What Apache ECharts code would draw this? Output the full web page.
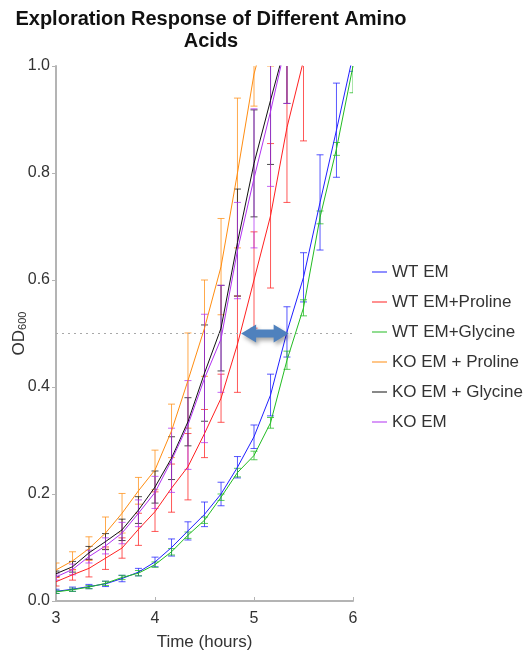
<!DOCTYPE html>
<html>
<head>
<meta charset="utf-8">
<script src="https://cdn.jsdelivr.net/npm/echarts@6/dist/echarts.min.js"></script>
<style>
  html, body { margin: 0; padding: 0; background: #fff; }
  #chart { width: 532px; height: 658px; }
</style>
</head>
<body>
<div id="chart"></div>
<script>
// Sampling times (hours), every 10 minutes
const times = [3.0, 3.167, 3.333, 3.5, 3.667, 3.833, 4.0, 4.167, 4.333, 4.5,
               4.667, 4.833, 5.0, 5.167, 5.333, 5.5, 5.667, 5.833, 6.0];

// Mean OD600 and error (±) per strain / medium
const wtEM      = [0.018, 0.022, 0.027, 0.032, 0.042, 0.054, 0.073, 0.100, 0.131, 0.162,
                   0.200, 0.250, 0.307, 0.385, 0.503, 0.605, 0.745, 0.880, 1.020];
const wtEMErr   = [0.004, 0.004, 0.004, 0.005, 0.006, 0.007, 0.009, 0.016, 0.017, 0.023,
                   0.022, 0.020, 0.022, 0.039, 0.047, 0.046, 0.089, 0.088, 0.030];

const wtPro     = [0.036, 0.049, 0.061, 0.080, 0.099, 0.134, 0.167, 0.211, 0.251, 0.313,
                   0.379, 0.480, 0.600, 0.720, 0.885, 1.010];
const wtProErr  = [0.008, 0.010, 0.016, 0.021, 0.019, 0.030, 0.037, 0.045, 0.062, 0.045,
                   0.045, 0.090, 0.090, 0.135, 0.140, 0.150];

const wtGly     = [0.017, 0.021, 0.026, 0.033, 0.044, 0.052, 0.068, 0.092, 0.123, 0.151,
                   0.194, 0.240, 0.272, 0.333, 0.450, 0.548, 0.717, 0.845, 1.000];
const wtGlyErr  = [0.003, 0.003, 0.003, 0.004, 0.004, 0.005, 0.005, 0.006, 0.006, 0.006,
                   0.006, 0.008, 0.008, 0.010, 0.017, 0.015, 0.012, 0.012, 0.050];

const koPro     = [0.058, 0.075, 0.098, 0.127, 0.164, 0.206, 0.245, 0.318, 0.412, 0.510,
                   0.625, 0.800, 0.985, 1.100];
const koProErr  = [0.013, 0.017, 0.022, 0.030, 0.037, 0.025, 0.037, 0.050, 0.089, 0.090,
                   0.090, 0.140, 0.060, 0.100];

const koGly     = [0.051, 0.064, 0.090, 0.111, 0.133, 0.170, 0.213, 0.267, 0.335, 0.426,
                   0.510, 0.670, 0.818, 0.936, 1.050];
const koGlyErr  = [0.005, 0.010, 0.012, 0.015, 0.020, 0.025, 0.030, 0.040, 0.045, 0.090,
                   0.080, 0.100, 0.100, 0.120, 0.120];

const koEM      = [0.045, 0.059, 0.083, 0.103, 0.127, 0.164, 0.203, 0.263, 0.329, 0.416,
                   0.490, 0.655, 0.790, 0.915, 1.050];
const koEMErr   = [0.006, 0.010, 0.012, 0.015, 0.020, 0.025, 0.030, 0.060, 0.083, 0.120,
                   0.100, 0.090, 0.130, 0.140, 0.120];

// Axis ticks
const xTicks = [3, 4, 5, 6];
const yTicks = [0.0, 0.2, 0.4, 0.6, 0.8, 1.0];

// Half-maximal OD reference level and the lag shift between WT EM+Proline and WT EM
const refLevel = 0.5;
const shiftFrom = 4.87;
const shiftTo = 5.35;

const groups = [
  { name: 'WT EM',            mean: wtEM,   err: wtEMErr,   color: '#1f1fff' },
  { name: 'WT EM+Proline',    mean: wtPro,  err: wtProErr,  color: '#ff2020' },
  { name: 'WT EM+Glycine',    mean: wtGly,  err: wtGlyErr,  color: '#22bb22' },
  { name: 'KO EM + Proline',  mean: koPro,  err: koProErr,  color: '#ff8c10' },
  { name: 'KO EM + Glycine',  mean: koGly,  err: koGlyErr,  color: '#111111' },
  { name: 'KO EM',            mean: koEM,   err: koEMErr,   color: '#b030f0' }
];

const FONT = 'Liberation Sans, Arial, sans-serif';
const TEXT = '#333';

const chart = echarts.init(document.getElementById('chart'), null, { renderer: 'canvas' });

const series = [];
groups.forEach((g, gi) => {
  const pts = g.mean.map((v, i) => [times[i], v]);
  const line = {
    name: g.name,
    type: 'line',
    data: pts,
    symbol: 'none',
    clip: true,
    z: 3,
    lineStyle: { color: g.color, width: 1 },
    itemStyle: { color: g.color },
    emphasis: { disabled: true }
  };
  if (gi === 0) {
    line.markLine = {
      silent: true,
      symbol: 'none',
      label: { show: false },
      lineStyle: { type: [2, 4], color: '#a8a8a8', width: 1 },
      data: [{ yAxis: refLevel }]
    };
  }
  series.push(line);

  // Error bars drawn through the axes' coordinate mapping
  series.push({
    name: g.name,
    type: 'custom',
    clip: true,
    z: 2,
    data: g.mean.map((v, i) => [times[i], v - g.err[i], v + g.err[i]]),
    renderItem: function (params, api) {
      const x = api.value(0);
      const lo = api.coord([x, api.value(1)]);
      const hi = api.coord([x, api.value(2)]);
      const cap = 3.5;
      const style = { stroke: g.color, lineWidth: 1, opacity: 0.75 };
      return {
        type: 'group',
        children: [
          { type: 'line', shape: { x1: lo[0], y1: lo[1], x2: hi[0], y2: hi[1] }, style: style },
          { type: 'line', shape: { x1: lo[0] - cap, y1: lo[1], x2: lo[0] + cap, y2: lo[1] }, style: style },
          { type: 'line', shape: { x1: hi[0] - cap, y1: hi[1], x2: hi[0] + cap, y2: hi[1] }, style: style }
        ]
      };
    }
  });
});

// Double-headed arrow marking the shift at the reference level
series.push({
  type: 'custom',
  silent: true,
  z: 5,
  data: [[shiftFrom, shiftTo, refLevel]],
  renderItem: function (params, api) {
    const a = api.coord([api.value(0), api.value(2)]);
    const b = api.coord([api.value(1), api.value(2)]);
    const head = 15, hh = 9, sh = 4;
    const y = a[1];
    const pts = [
      [a[0], y],
      [a[0] + head, y - hh],
      [a[0] + head, y - sh],
      [b[0] - head, y - sh],
      [b[0] - head, y - hh],
      [b[0], y],
      [b[0] - head, y + hh],
      [b[0] - head, y + sh],
      [a[0] + head, y + sh],
      [a[0] + head, y + hh]
    ];
    return {
      type: 'polygon',
      shape: { points: pts },
      style: {
        fill: '#4f81bd',
        shadowBlur: 4,
        shadowOffsetX: 2,
        shadowOffsetY: 3,
        shadowColor: 'rgba(0,0,0,0.35)'
      }
    };
  }
});

chart.setOption({
  animation: false,
  backgroundColor: '#ffffff',
  textStyle: { fontFamily: FONT, color: TEXT },
  title: {
    text: 'Exploration Response of Different Amino\nAcids',
    left: 206,
    top: 3,
    textAlign: 'center',
    textStyle: {
      fontFamily: FONT,
      fontWeight: 'bold',
      fontSize: 20,
      lineHeight: 22,
      color: '#111'
    }
  },
  legend: {
    orient: 'vertical',
    left: 367,
    top: 257,
    itemWidth: 15,
    itemHeight: 1,
    itemGap: 10,
    icon: 'rect',
    data: groups.map(g => ({ name: g.name, itemStyle: { color: g.color } })),
    textStyle: { fontSize: 17, lineHeight: 20, color: TEXT, fontFamily: FONT },
    selectedMode: false
  },
  grid: { left: 56, right: 179, top: 66, bottom: 57, containLabel: false, outerBoundsMode: 'none' },
  xAxis: {
    type: 'value',
    min: xTicks[0],
    max: xTicks[xTicks.length - 1],
    interval: 1,
    name: 'Time (hours)',
    nameLocation: 'middle',
    nameGap: 33,
    nameMoveOverlap: false,
    nameTextStyle: { fontSize: 17, color: TEXT, fontFamily: FONT },
    axisLine: { lineStyle: { color: '#b4b4b4', width: 2 } },
    axisTick: { inside: true, length: 4, lineStyle: { color: '#b4b4b4' } },
    axisLabel: { fontSize: 16, color: TEXT, margin: 10, fontFamily: FONT },
    splitLine: { show: false }
  },
  yAxis: {
    type: 'value',
    min: yTicks[0],
    max: yTicks[yTicks.length - 1],
    interval: 0.2,
    name: '{a|OD}{b|600}',
    nameLocation: 'middle',
    nameRotate: 90,
    nameGap: 28,
    nameMoveOverlap: false,
    nameTextStyle: {
      rich: {
        a: { fontSize: 17, color: TEXT, fontFamily: FONT },
        b: { fontSize: 11, color: TEXT, fontFamily: FONT, padding: [7, 0, 0, 0] }
      }
    },
    axisLine: { show: true, lineStyle: { color: '#b4b4b4', width: 2 } },
    axisTick: { show: true, length: 4, lineStyle: { color: '#b4b4b4' } },
    axisLabel: { fontSize: 16, color: TEXT, margin: 6, fontFamily: FONT, formatter: v => v.toFixed(1) },
    splitLine: { show: false }
  },
  series: series
});
</script>
</body>
</html>
